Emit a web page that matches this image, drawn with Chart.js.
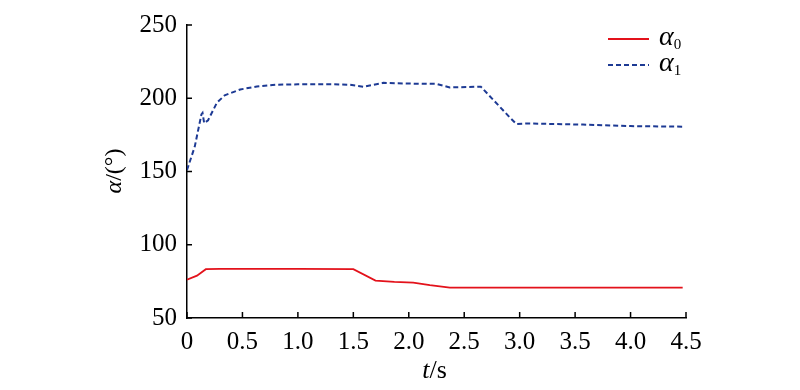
<!DOCTYPE html>
<html>
<head>
<meta charset="utf-8">
<script src="https://cdn.jsdelivr.net/npm/chart.js@4.4.1/dist/chart.umd.min.js"></script>
<style>
  html, body { margin: 0; padding: 0; background: #fff; }
</style>
</head>
<body>
<canvas id="myChart" width="800" height="390"></canvas>
<script>
// data
const tA0 = [0, 0.09, 0.17, 0.3, 1.0, 1.5, 1.7, 1.87, 2.04, 2.19, 2.37, 4.47];
const vA0 = [76.2, 78.9, 83.3, 83.6, 83.6, 83.3, 75.5, 74.6, 74.2, 72.4, 70.8, 70.8];

const tA1 = [0, 0.07, 0.13, 0.14, 0.155, 0.19, 0.27, 0.34, 0.48, 0.63, 0.8, 1.0, 1.3, 1.47, 1.59, 1.77, 2.0, 2.25, 2.37, 2.65, 2.91, 2.97, 3.06, 3.57, 4.0, 4.47];
const vA1 = [151, 167, 189, 190, 183, 185, 197, 202, 206, 208, 209.2, 209.5, 209.6, 209.2, 207.9, 210.5, 210, 209.8, 207.4, 207.9, 187, 182.4, 182.8, 182, 181, 180.6];

const xTicks = [0, 0.5, 1.0, 1.5, 2.0, 2.5, 3.0, 3.5, 4.0, 4.5];
const yTicks = [50, 100, 150, 200, 250];
const seriesNames = ['0', '1'];

const serif = '"Liberation Serif", "DejaVu Serif", serif';
const red = '#e3121b';
const blue = '#1d3a94';

function pts(t, v) {
  return t.map((x, i) => ({ x: x, y: v[i] }));
}

// inward ticks, axis titles and legend with subscripts
const decor = {
  id: 'decor',
  afterDraw(chart) {
    const c = chart.ctx;
    const xs = chart.scales.x, ys = chart.scales.y;
    const a = chart.chartArea;
    c.save();
    c.strokeStyle = '#000';
    c.lineWidth = 1.5;
    c.beginPath();
    xTicks.forEach(v => {
      const px = xs.getPixelForValue(v);
      c.moveTo(px, a.bottom);
      c.lineTo(px, a.bottom - 6);
    });
    yTicks.forEach(v => {
      const py = ys.getPixelForValue(v);
      c.moveTo(a.left, py);
      c.lineTo(a.left + 5, py);
    });
    c.stroke();

    c.fillStyle = '#000';
    c.textBaseline = 'alphabetic';
    // x title  t/s
    c.font = 'italic 26px ' + serif;
    let w1 = c.measureText('t').width;
    c.font = '26px ' + serif;
    let w2 = c.measureText('/s').width;
    let x0 = (a.left + a.right) / 2 - (w1 + w2) / 2 - 2;
    c.font = 'italic 26px ' + serif;
    c.fillText('t', x0, 378);
    c.font = '26px ' + serif;
    c.fillText('/s', x0 + w1, 378);

    // y title  α/(°)
    c.save();
    c.translate(121, 171);
    c.rotate(-Math.PI / 2);
    c.font = 'italic 24px ' + serif;
    w1 = c.measureText('α').width;
    c.font = '24px ' + serif;
    w2 = c.measureText('/(°)').width;
    x0 = -(w1 + w2) / 2;
    c.font = 'italic 24px ' + serif;
    c.fillText('α', x0, 0);
    c.font = '24px ' + serif;
    c.fillText('/(°)', x0 + w1, 0);
    c.restore();

    // legend
    chart.data.datasets.forEach((ds, i) => {
      const y = 39 + i * 26;
      c.save();
      c.strokeStyle = ds.borderColor;
      c.lineWidth = ds.borderWidth;
      c.setLineDash(ds.borderDash || []);
      c.beginPath();
      c.moveTo(608, y);
      c.lineTo(649, y);
      c.stroke();
      c.restore();
      c.font = 'italic 28px ' + serif;
      c.fillText('α', 659, y + 6);
      const aw = c.measureText('α').width;
      c.font = '15px ' + serif;
      c.fillText(seriesNames[i], 659 + aw, y + 10);
    });
    c.restore();
  }
};

new Chart(document.getElementById('myChart'), {
  type: 'line',
  data: {
    datasets: [
      {
        label: 'α0',
        data: pts(tA0, vA0),
        borderColor: red,
        borderWidth: 1.8,
        pointRadius: 0,
        tension: 0
      },
      {
        label: 'α1',
        data: pts(tA1, vA1),
        borderColor: blue,
        borderWidth: 2,
        borderDash: [5, 3],
        pointRadius: 0,
        tension: 0
      }
    ]
  },
  options: {
    responsive: false,
    animation: false,
    layout: { padding: { left: 0, top: 19, right: 114, bottom: 0 } },
    plugins: {
      legend: { display: false },
      tooltip: { enabled: false }
    },
    scales: {
      x: {
        type: 'linear',
        min: 0,
        max: 4.5,
        afterFit: s => { s.height = 72; },
        afterBuildTicks: s => { s.ticks = xTicks.map(v => ({ value: v })); },
        grid: { drawOnChartArea: false, drawTicks: false },
        border: { color: '#000', width: 1.5 },
        ticks: {
          color: '#000',
          padding: 9,
          font: { family: serif, size: 25 },
          callback: v => v === 0 ? '0' : v.toFixed(1)
        }
      },
      y: {
        min: 50,
        max: 250,
        afterFit: s => { s.width = 187; },
        afterBuildTicks: s => { s.ticks = yTicks.map(v => ({ value: v })); },
        grid: { drawOnChartArea: false, drawTicks: false },
        border: { color: '#000', width: 1.5 },
        ticks: {
          color: '#000',
          padding: 10,
          font: { family: serif, size: 25 }
        }
      }
    }
  },
  plugins: [decor]
});
</script>
</body>
</html>
